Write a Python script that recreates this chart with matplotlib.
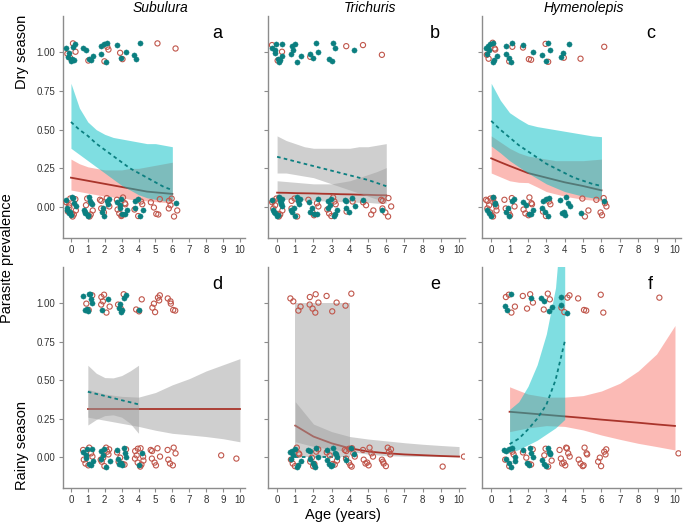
import matplotlib
matplotlib.use('Agg')
import matplotlib.pyplot as plt
import numpy as np

plt.rcParams['font.family'] = ['Liberation Sans', 'DejaVu Sans']

# ---------------- data ----------------
AGES = [0, 1, 2, 3, 4, 5, 6, 7, 8, 9, 10]
COL_TITLES = ['Subulura', 'Trichuris', 'Hymenolepis']
ROW_TITLES = ['Dry season', 'Rainy season']
LETTERS = ['a', 'b', 'c', 'd', 'e', 'f']
Y_TICKS = [0.0, 0.25, 0.5, 0.75, 1.0]
Y_TICKLABELS = ['0.00', '0.25', '0.50', '0.75', '1.00']

# hand-read jitter offsets (age, prevalence) used to spread the points
JIT_X = [-0.21, 0.12, -0.05, 0.27, -0.28, 0.03, 0.19, -0.14, 0.08, -0.24, 0.22, -0.02,
         0.15, -0.18, 0.26, -0.09, 0.05, -0.27, 0.17, -0.11, 0.29, -0.04, 0.10, -0.20]
JIT_Y = [0.031, -0.048, 0.012, -0.022, 0.055, -0.061, 0.040, -0.009, 0.058, -0.035, 0.004, 0.047,
         -0.053, 0.025, -0.041, 0.062, -0.016, 0.018, -0.058, 0.036, -0.029, 0.051, -0.003, -0.044]

# counts of animals per age (infected = 1, uninfected = 0), teal group / red group
A_TEAL_1 = [8, 5, 5, 3, 3, 0, 0, 0, 0, 0, 0]
A_RED_1 = [4, 1, 3, 2, 0, 1, 1, 0, 0, 0, 0]
A_TEAL_0 = [10, 9, 6, 7, 5, 0, 1, 0, 0, 0, 0]
A_RED_0 = [10, 5, 6, 8, 4, 5, 6, 0, 0, 0, 0]

B_TEAL_1 = [9, 6, 4, 4, 1, 0, 0, 0, 0, 0, 0]
B_RED_1 = [3, 0, 1, 0, 1, 1, 1, 0, 0, 0, 0]
B_TEAL_0 = [12, 8, 6, 7, 6, 1, 1, 0, 0, 0, 0]
B_RED_0 = [10, 4, 5, 6, 2, 4, 7, 0, 0, 0, 0]

C_TEAL_1 = [9, 5, 2, 4, 3, 0, 0, 0, 0, 0, 0]
C_RED_1 = [5, 2, 3, 2, 1, 1, 1, 0, 0, 0, 0]
C_TEAL_0 = [6, 5, 5, 6, 7, 1, 1, 0, 0, 0, 0]
C_RED_0 = [12, 6, 6, 4, 0, 3, 6, 0, 0, 0, 0]

D_TEAL_1 = [0, 8, 2, 6, 1, 0, 0, 0, 0, 0, 0]
D_RED_1 = [0, 3, 6, 3, 3, 6, 5, 0, 0, 0, 0]
D_TEAL_0 = [0, 8, 6, 8, 2, 0, 0, 0, 0, 0, 0]
D_RED_0 = [0, 7, 8, 6, 10, 7, 6, 0, 0, 1, 1]

E_TEAL_1 = [0, 0, 0, 0, 0, 0, 0, 0, 0, 0, 0]
E_RED_1 = [0, 4, 6, 3, 2, 0, 0, 0, 0, 0, 0]
E_TEAL_0 = [0, 8, 8, 9, 3, 0, 0, 0, 0, 0, 0]
E_RED_0 = [0, 6, 6, 5, 10, 8, 8, 0, 0, 1, 1]

F_TEAL_1 = [0, 3, 1, 4, 3, 0, 0, 0, 0, 0, 0]
F_RED_1 = [0, 4, 4, 3, 4, 3, 2, 0, 0, 1, 0]
F_TEAL_0 = [0, 9, 6, 7, 0, 0, 0, 0, 0, 0, 0]
F_RED_0 = [0, 4, 5, 4, 9, 7, 6, 0, 0, 0, 1]

# fitted curves and confidence bands
X_0_6 = [0, 0.5, 1, 1.5, 2, 2.5, 3, 3.5, 4, 4.5, 5, 5.5, 6]

A_TEAL_FIT = [0.55, 0.50, 0.46, 0.41, 0.37, 0.33, 0.29, 0.25, 0.22, 0.19, 0.16, 0.13, 0.11]
A_TEAL_HI = [0.80, 0.64, 0.55, 0.50, 0.47, 0.45, 0.44, 0.43, 0.42, 0.41, 0.41, 0.40, 0.39]
A_TEAL_LO = [0.38, 0.34, 0.30, 0.26, 0.22, 0.18, 0.14, 0.11, 0.08, 0.06, 0.05, 0.04, 0.04]
A_RED_FIT = [0.19, 0.18, 0.17, 0.16, 0.15, 0.14, 0.13, 0.12, 0.11, 0.10, 0.095, 0.09, 0.085]
A_RED_HI = [0.31, 0.28, 0.26, 0.25, 0.24, 0.24, 0.24, 0.25, 0.25, 0.26, 0.27, 0.28, 0.29]
A_RED_LO = [0.11, 0.10, 0.09, 0.08, 0.07, 0.065, 0.06, 0.05, 0.045, 0.04, 0.035, 0.03, 0.03]

B_TEAL_FIT = [0.325, 0.31, 0.295, 0.28, 0.265, 0.25, 0.235, 0.22, 0.205, 0.19, 0.175, 0.155, 0.135]
B_TEAL_HI = [0.46, 0.43, 0.41, 0.39, 0.38, 0.38, 0.38, 0.38, 0.38, 0.39, 0.39, 0.40, 0.41]
B_TEAL_LO = [0.22, 0.22, 0.21, 0.20, 0.19, 0.17, 0.15, 0.13, 0.11, 0.09, 0.07, 0.05, 0.04]
B_RED_FIT = [0.093, 0.092, 0.090, 0.089, 0.088, 0.086, 0.085, 0.083, 0.082, 0.080, 0.079, 0.077, 0.076]
B_RED_HI = [0.17, 0.165, 0.16, 0.155, 0.15, 0.15, 0.15, 0.16, 0.17, 0.19, 0.21, 0.23, 0.255]
B_RED_LO = [0.05, 0.05, 0.05, 0.045, 0.045, 0.04, 0.04, 0.035, 0.035, 0.03, 0.03, 0.025, 0.025]

C_TEAL_FIT = [0.557, 0.50, 0.45, 0.40, 0.36, 0.32, 0.28, 0.25, 0.22, 0.19, 0.17, 0.15, 0.136]
C_TEAL_HI = [0.80, 0.69, 0.61, 0.57, 0.535, 0.52, 0.51, 0.50, 0.49, 0.48, 0.47, 0.46, 0.455]
C_TEAL_LO = [0.395, 0.35, 0.30, 0.26, 0.22, 0.185, 0.15, 0.125, 0.10, 0.085, 0.07, 0.06, 0.05]
C_RED_FIT = [0.315, 0.29, 0.266, 0.243, 0.22, 0.205, 0.19, 0.175, 0.16, 0.148, 0.136, 0.122, 0.108]
C_RED_HI = [0.46, 0.42, 0.38, 0.35, 0.33, 0.32, 0.31, 0.30, 0.30, 0.30, 0.30, 0.305, 0.31]
C_RED_LO = [0.22, 0.195, 0.17, 0.16, 0.158, 0.13, 0.10, 0.085, 0.07, 0.06, 0.05, 0.045, 0.04]

X_1_4 = [1, 1.5, 2, 2.5, 3, 3.5, 4]
X_1_10 = [1, 2, 3, 4, 5, 6, 7, 8, 9, 10]

D_TEAL_FIT = [0.425, 0.411, 0.398, 0.384, 0.370, 0.357, 0.343]
D_TEAL_HI = [0.597, 0.545, 0.517, 0.515, 0.53, 0.56, 0.597]
D_TEAL_LO = [0.209, 0.245, 0.27, 0.275, 0.26, 0.22, 0.155]
D_RED_FIT = [0.3125, 0.3125, 0.3125, 0.3125, 0.3125, 0.3125, 0.3125, 0.3125, 0.3125, 0.3125]
D_RED_HI = [0.44, 0.41, 0.395, 0.39, 0.42, 0.47, 0.51, 0.56, 0.60, 0.64]
D_RED_LO = [0.26, 0.24, 0.22, 0.20, 0.175, 0.155, 0.145, 0.134, 0.12, 0.10]

E_TEAL_FIT = [0.002, 0.002, 0.002, 0.002, 0.002, 0.002, 0.002]
E_TEAL_HI = [1.0, 1.0, 1.0, 1.0, 1.0, 1.0, 1.0]
E_TEAL_LO = [0.0, 0.0, 0.0, 0.0, 0.0, 0.0, 0.0]
E_RED_FIT = [0.205, 0.134, 0.09, 0.058, 0.037, 0.026, 0.018, 0.013, 0.008, 0.004]
E_RED_HI = [0.36, 0.215, 0.166, 0.134, 0.118, 0.106, 0.094, 0.084, 0.076, 0.069]
E_RED_LO = [0.10, 0.07, 0.05, 0.037, 0.02, 0.01, 0.007, 0.005, 0.004, 0.003]

F_TEAL_FIT = [0.085, 0.12, 0.18, 0.25, 0.34, 0.50, 0.75]
F_TEAL_HI = [0.31, 0.36, 0.46, 0.60, 0.80, 1.10, 1.80]
F_TEAL_LO = [0.026, 0.05, 0.08, 0.11, 0.15, 0.19, 0.245]
F_RED_FIT = [0.295, 0.285, 0.275, 0.265, 0.255, 0.244, 0.234, 0.224, 0.213, 0.203]
F_RED_HI = [0.457, 0.41, 0.39, 0.39, 0.40, 0.43, 0.48, 0.56, 0.67, 0.855]
F_RED_LO = [0.166, 0.19, 0.205, 0.20, 0.177, 0.144, 0.116, 0.09, 0.069, 0.047]

# ---------------- style ----------------
TEAL_PT = '#0b7f80'
RED_PT = '#c0564b'
TEAL_FILL = '#00BFC4'
PINK_FILL = '#F8766D'
GREY_FILL = '#a0a0a0'
TEAL_LINE = '#0b7f80'
RED_LINE = '#a9342b'

W, H = 685, 527
cols_px = [(62.5, 245), (268, 464.5), (482, 680.5)]
rows_px = [(16, 238), (267, 488)]

fig = plt.figure(figsize=(W / 100, H / 100), dpi=100)

panels = [
    dict(t1=A_TEAL_1, r1=A_RED_1, t0=A_TEAL_0, r0=A_RED_0, tx=X_0_6, tf=A_TEAL_FIT, th=A_TEAL_HI, tl=A_TEAL_LO,
         rx=X_0_6, rf=A_RED_FIT, rh=A_RED_HI, rl=A_RED_LO, tband=TEAL_FILL, rband=PINK_FILL),
    dict(t1=B_TEAL_1, r1=B_RED_1, t0=B_TEAL_0, r0=B_RED_0, tx=X_0_6, tf=B_TEAL_FIT, th=B_TEAL_HI, tl=B_TEAL_LO,
         rx=X_0_6, rf=B_RED_FIT, rh=B_RED_HI, rl=B_RED_LO, tband=GREY_FILL, rband=GREY_FILL),
    dict(t1=C_TEAL_1, r1=C_RED_1, t0=C_TEAL_0, r0=C_RED_0, tx=X_0_6, tf=C_TEAL_FIT, th=C_TEAL_HI, tl=C_TEAL_LO,
         rx=X_0_6, rf=C_RED_FIT, rh=C_RED_HI, rl=C_RED_LO, tband=TEAL_FILL, rband=PINK_FILL),
    dict(t1=D_TEAL_1, r1=D_RED_1, t0=D_TEAL_0, r0=D_RED_0, tx=X_1_4, tf=D_TEAL_FIT, th=D_TEAL_HI, tl=D_TEAL_LO,
         rx=X_1_10, rf=D_RED_FIT, rh=D_RED_HI, rl=D_RED_LO, tband=GREY_FILL, rband=GREY_FILL),
    dict(t1=E_TEAL_1, r1=E_RED_1, t0=E_TEAL_0, r0=E_RED_0, tx=X_1_4, tf=E_TEAL_FIT, th=E_TEAL_HI, tl=E_TEAL_LO,
         rx=X_1_10, rf=E_RED_FIT, rh=E_RED_HI, rl=E_RED_LO, tband=GREY_FILL, rband=GREY_FILL),
    dict(t1=F_TEAL_1, r1=F_RED_1, t0=F_TEAL_0, r0=F_RED_0, tx=X_1_4, tf=F_TEAL_FIT, th=F_TEAL_HI, tl=F_TEAL_LO,
         rx=X_1_10, rf=F_RED_FIT, rh=F_RED_HI, rl=F_RED_LO, tband=TEAL_FILL, rband=PINK_FILL),
]


def jittered(counts, outcome, start):
    xs, ys = [], []
    for age, n in zip(AGES, counts):
        s = (start + age * 5 + outcome * 11) % len(JIT_X)
        for i in range(n):
            j = (s + i) % len(JIT_X)
            xs.append(age + JIT_X[j])
            ys.append(outcome + JIT_Y[(j + 7) % len(JIT_Y)])
    return xs, ys


for k, p in enumerate(panels):
    r, c = divmod(k, 3)
    l, rr = cols_px[c]
    t, b = rows_px[r]
    ax = fig.add_axes([l / W, 1 - b / H, (rr - l) / W, (b - t) / H])

    ax.fill_between(p['rx'], p['rl'], p['rh'], color=p['rband'], alpha=0.5, lw=0, zorder=1)
    ax.plot(p['rx'], p['rf'], color=RED_LINE, lw=1.3, zorder=2)
    ax.fill_between(p['tx'], p['tl'], p['th'], color=p['tband'], alpha=0.5, lw=0, zorder=3)
    ax.plot(p['tx'], p['tf'], color=TEAL_LINE, lw=1.3, ls=(0, (2, 1.8)), zorder=4)

    for outcome, tc, rc in [(1, p['t1'], p['r1']), (0, p['t0'], p['r0'])]:
        rx, ry = jittered(rc, outcome, 13 + k * 3)
        ax.scatter(rx, ry, s=14, facecolor='none', edgecolor=RED_PT, lw=0.8, zorder=5)
        tx, ty = jittered(tc, outcome, k * 3)
        ax.scatter(tx, ty, s=14, color=TEAL_PT, edgecolor=TEAL_PT, lw=0.3, zorder=6)

    ax.set_xlim(-0.5, 10.3)
    ax.set_ylim(-0.2, 1.235)
    ax.set_xticks(AGES)
    ax.set_yticks(Y_TICKS)
    if c == 0:
        ax.set_yticklabels(Y_TICKLABELS)
    else:
        ax.set_yticklabels([])
    for side in ['top', 'right']:
        ax.spines[side].set_visible(False)
    for side in ['left', 'bottom']:
        ax.spines[side].set_color('#8c8c8c')
        ax.spines[side].set_linewidth(1.0)
    ax.tick_params(length=3, width=0.8, color='#8c8c8c', labelsize=7, labelcolor='#333333', pad=2)
    ax.text(0.85, 0.92, LETTERS[k], transform=ax.transAxes, fontsize=13, ha='center', va='center')

title_x = [160, 370, 584]
for c, name in enumerate(COL_TITLES):
    fig.text(title_x[c] / W, 1 - 8 / H, name, fontsize=10, style='italic', ha='center', va='center')

fig.text(22 / W, 1 - 52 / H, ROW_TITLES[0], rotation=90, fontsize=10.5, ha='center', va='center')
fig.text(22 / W, 1 - 445 / H, ROW_TITLES[1], rotation=90, fontsize=10.5, ha='center', va='center')
fig.text(7 / W, 1 - 258 / H, 'Parasite prevalence', rotation=90, fontsize=10.5, ha='center', va='center')
fig.text(343 / W, 1 - 515 / H, 'Age (years)', fontsize=10.5, ha='center', va='center')

fig.savefig('out.png', dpi=100)
